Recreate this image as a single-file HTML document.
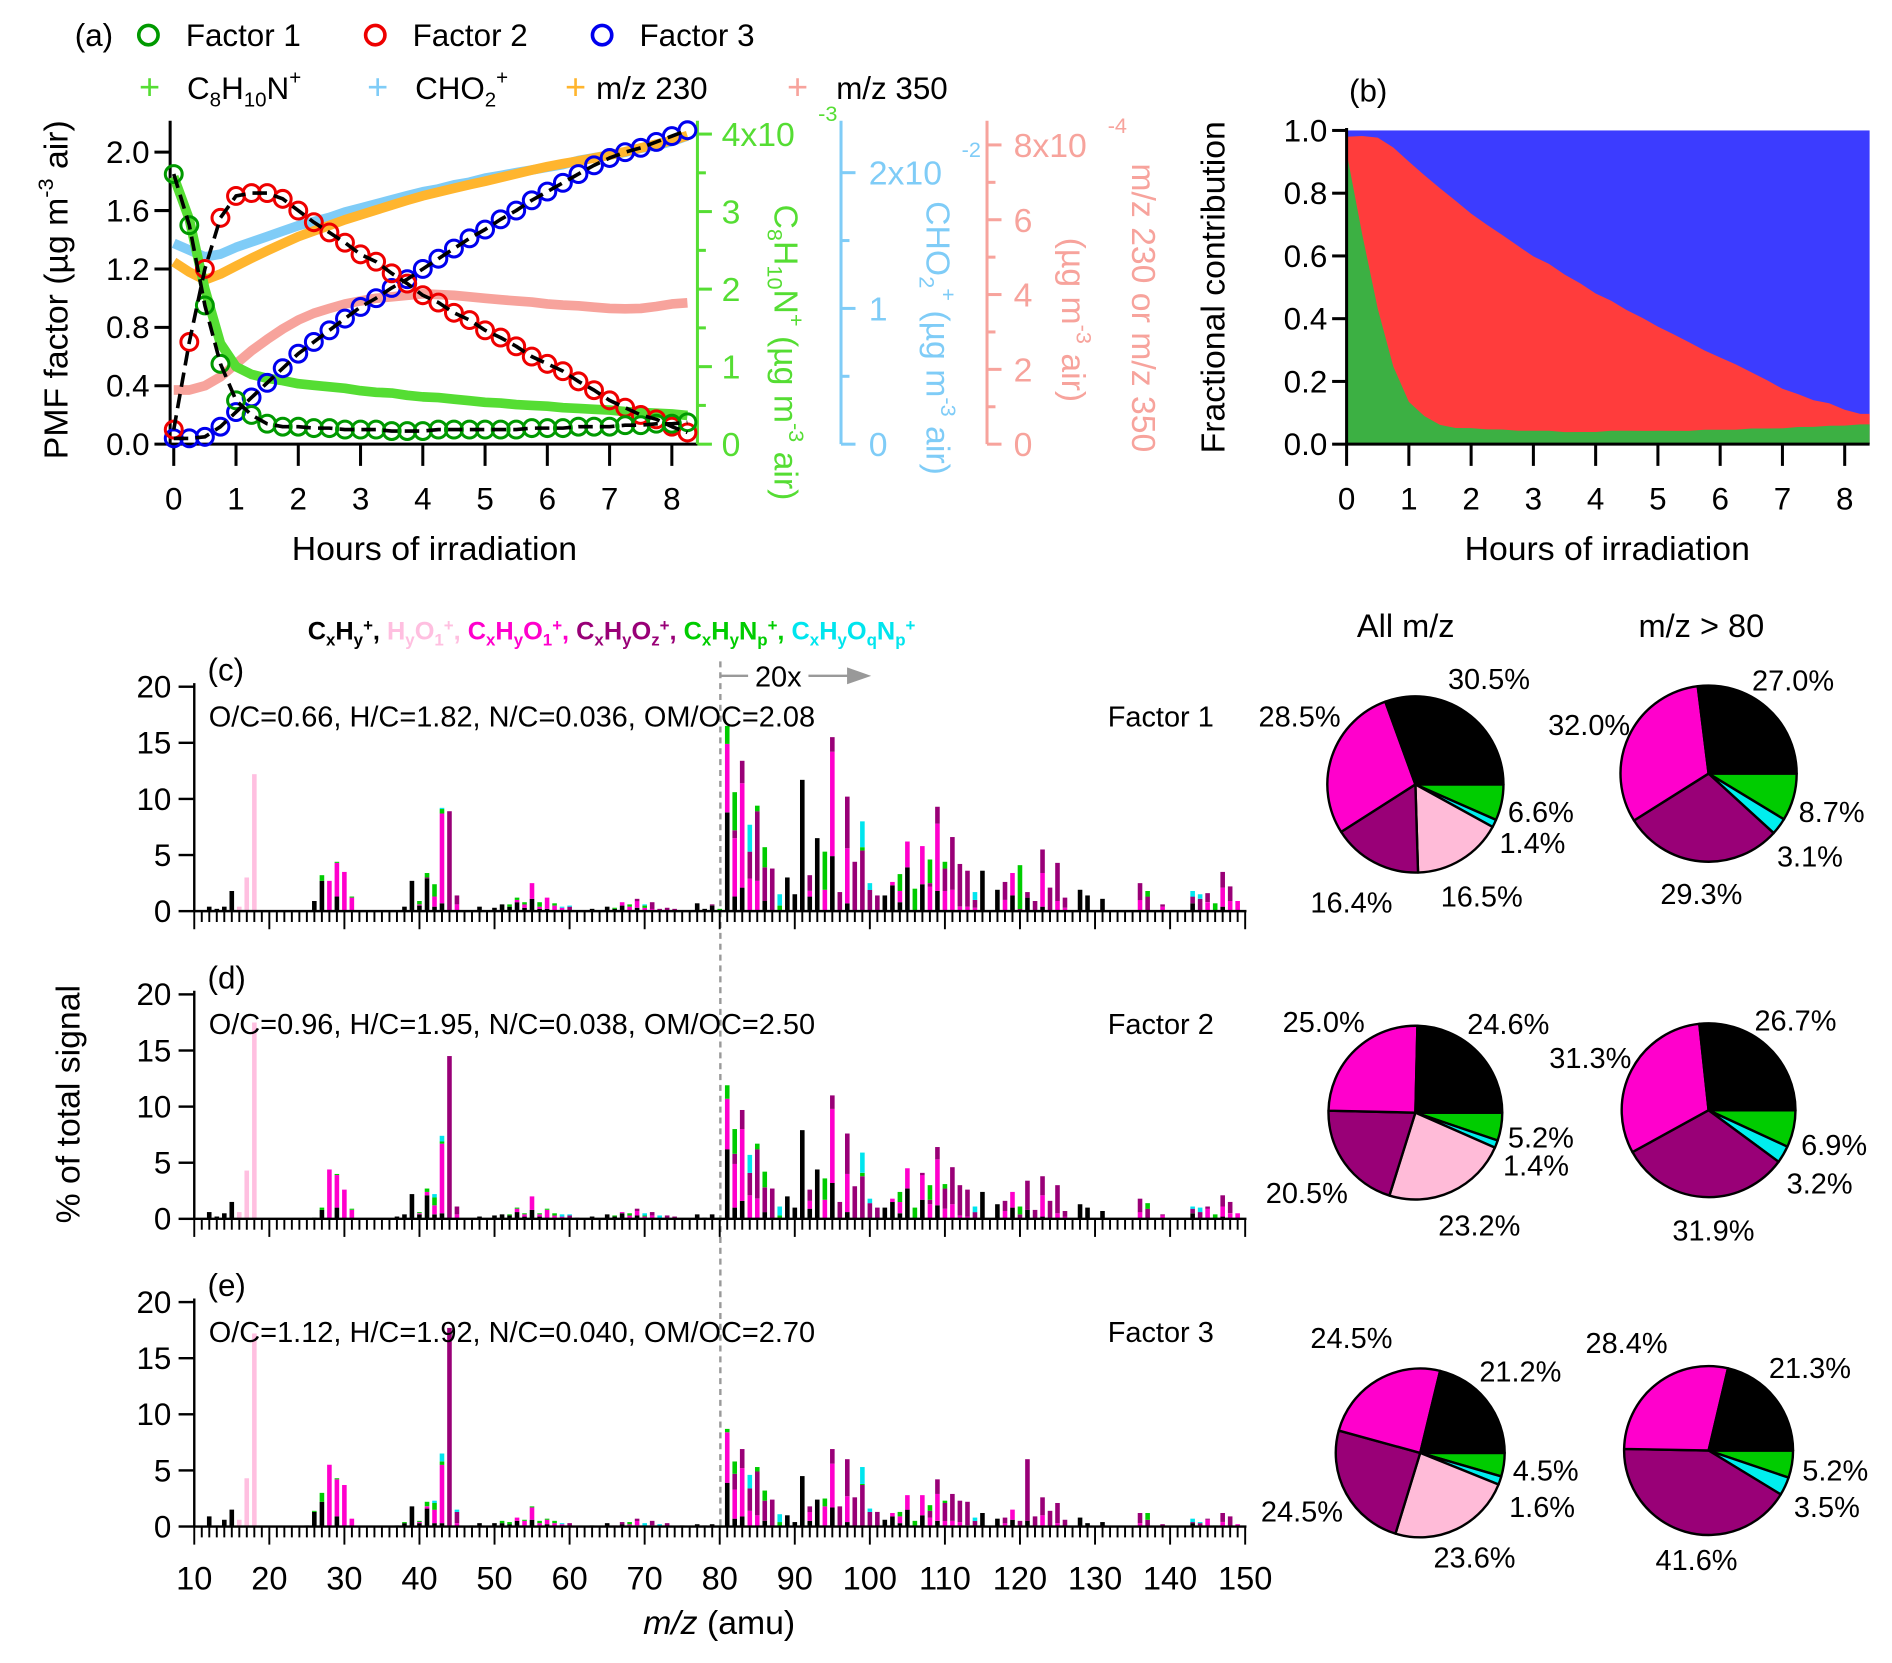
<!DOCTYPE html>
<html><head><meta charset="utf-8"><style>
html,body{margin:0;padding:0;background:#fff}
svg{display:block;font-family:"Liberation Sans",Arial,sans-serif}
</style></head><body>
<svg id="fig" width="1892" height="1663" viewBox="0 0 1568 1378" xmlns="http://www.w3.org/2000/svg">
<g font-size="26">
<text x="62" y="38">(a)</text>
<circle cx="123" cy="29" r="8" fill="none" stroke="#009900" stroke-width="3"/>
<text x="154" y="38">Factor 1</text>
<circle cx="311" cy="29" r="8" fill="none" stroke="#ee0000" stroke-width="3"/>
<text x="342" y="38">Factor 2</text>
<circle cx="499" cy="29" r="8" fill="none" stroke="#0000ee" stroke-width="3"/>
<text x="530" y="38">Factor 3</text>
<text x="124" y="82" text-anchor="middle" fill="#55dd33" font-size="30">+</text>
<text x="155" y="82">C<tspan font-size="17" dy="6">8</tspan><tspan dy="-6">H</tspan><tspan font-size="17" dy="6">10</tspan><tspan dy="-6">N</tspan><tspan font-size="17" dy="-12">+</tspan></text>
<text x="313" y="82" text-anchor="middle" fill="#7fccf7" font-size="30">+</text>
<text x="344" y="82">CHO<tspan font-size="17" dy="6">2</tspan><tspan font-size="17" dy="-18">+</tspan></text>
<text x="477" y="82" text-anchor="middle" fill="#ffb52e" font-size="30">+</text>
<text x="494" y="82">m/z 230</text>
<text x="661" y="82" text-anchor="middle" fill="#f7a39c" font-size="30">+</text>
<text x="693" y="82">m/z 350</text>
</g>
<text transform="translate(56,240) rotate(-90)" text-anchor="middle" font-size="28">PMF factor (µg m<tspan font-size="18" dy="-12">-3</tspan><tspan dy="12"> air)</tspan></text>
<text x="360" y="464" text-anchor="middle" font-size="28">Hours of irradiation</text>
<text transform="translate(642,292) rotate(90)" text-anchor="middle" font-size="28" fill="#55dd33">C<tspan font-size="18" dy="6">8</tspan><tspan dy="-6">H</tspan><tspan font-size="18" dy="6">10</tspan><tspan dy="-6">N</tspan><tspan font-size="18" dy="-12">+</tspan><tspan dy="12"> (µg m</tspan><tspan font-size="18" dy="-12">-3</tspan><tspan dy="12"> air)</tspan></text>
<text transform="translate(768,280) rotate(90)" text-anchor="middle" font-size="28" fill="#7fccf7">CHO<tspan font-size="18" dy="6">2</tspan><tspan font-size="18" dy="-18">+</tspan><tspan dy="12"> (µg m</tspan><tspan font-size="18" dy="-12">-3</tspan><tspan dy="12"> air)</tspan></text>
<text transform="translate(880,265) rotate(90)" text-anchor="middle" font-size="28" fill="#f7a39c">(µg m<tspan font-size="18" dy="-12">-3</tspan><tspan dy="12"> air)</tspan></text>
<text transform="translate(938,255) rotate(90)" text-anchor="middle" font-size="28" fill="#f7a39c">m/z 230 or m/z 350</text>
<text x="1118" y="84" font-size="26">(b)</text>
<text transform="translate(1015,238) rotate(-90)" text-anchor="middle" font-size="28">Fractional contribution</text>
<text x="1332" y="464" text-anchor="middle" font-size="28">Hours of irradiation</text>
<text x="255" y="530" font-size="21" font-weight="bold"><tspan fill="#000">C<tspan font-size="14" dy="5">x</tspan><tspan dy="-5">H</tspan><tspan font-size="14" dy="5">y</tspan><tspan font-size="14" dy="-12">+</tspan><tspan dy="7">, </tspan></tspan><tspan fill="#ffbfe0">H<tspan font-size="14" dy="5">y</tspan><tspan dy="-5">O</tspan><tspan font-size="14" dy="5">1</tspan><tspan font-size="14" dy="-12">+</tspan><tspan dy="7">, </tspan></tspan><tspan fill="#ff00cc">C<tspan font-size="14" dy="5">x</tspan><tspan dy="-5">H</tspan><tspan font-size="14" dy="5">y</tspan><tspan dy="-5">O</tspan><tspan font-size="14" dy="5">1</tspan><tspan font-size="14" dy="-12">+</tspan><tspan dy="7">, </tspan></tspan><tspan fill="#990077">C<tspan font-size="14" dy="5">x</tspan><tspan dy="-5">H</tspan><tspan font-size="14" dy="5">y</tspan><tspan dy="-5">O</tspan><tspan font-size="14" dy="5">z</tspan><tspan font-size="14" dy="-12">+</tspan><tspan dy="7">,  </tspan></tspan><tspan fill="#00cc00">C<tspan font-size="14" dy="5">x</tspan><tspan dy="-5">H</tspan><tspan font-size="14" dy="5">y</tspan><tspan dy="-5">N</tspan><tspan font-size="14" dy="5">p</tspan><tspan font-size="14" dy="-12">+</tspan><tspan dy="7">, </tspan></tspan><tspan fill="#00e5ee">C<tspan font-size="14" dy="5">x</tspan><tspan dy="-5">H</tspan><tspan font-size="14" dy="5">y</tspan><tspan dy="-5">O</tspan><tspan font-size="14" dy="5">q</tspan><tspan dy="-5">N</tspan><tspan font-size="14" dy="5">p</tspan><tspan font-size="14" dy="-12">+</tspan></tspan></text>
<text x="1165" y="528" text-anchor="middle" font-size="27">All m/z</text>
<text x="1410" y="528" text-anchor="middle" font-size="27">m/z &gt; 80</text>
<text transform="translate(66,915) rotate(-90)" text-anchor="middle" font-size="28">% of total signal</text>
<text x="596" y="1354" text-anchor="middle" font-size="28"><tspan font-style="italic">m/z</tspan>  (amu)</text>
<line x1="597" y1="548" x2="597" y2="1268" stroke="#999" stroke-width="2" stroke-dasharray="5,4"/>
<line x1="597" y1="560" x2="705" y2="560" stroke="#999" stroke-width="2"/>
<polygon points="722,560 702,553 702,567" fill="#999"/>
<rect x="620" y="546" width="50" height="26" fill="#fff"/>
<text x="645" y="569" text-anchor="middle" font-size="24">20x</text>
<g id="root"></g>
</svg>
<script>
const hours = [0,0.25,0.5,0.75,1,1.25,1.5,1.75,2,2.25,2.5,2.75,3,3.25,3.5,3.75,4,4.25,4.5,4.75,5,5.25,5.5,5.75,6,6.25,6.5,6.75,7,7.25,7.5,7.75,8,8.25];
const factor1 = [1.85,1.5,0.95,0.55,0.3,0.2,0.14,0.12,0.12,0.11,0.11,0.1,0.1,0.1,0.09,0.09,0.09,0.1,0.1,0.1,0.1,0.1,0.1,0.11,0.11,0.11,0.12,0.12,0.12,0.13,0.13,0.14,0.14,0.15];
const factor2 = [0.1,0.7,1.2,1.55,1.7,1.72,1.72,1.68,1.6,1.52,1.45,1.38,1.3,1.25,1.17,1.1,1.02,0.97,0.9,0.85,0.78,0.73,0.67,0.6,0.55,0.5,0.43,0.37,0.3,0.25,0.2,0.17,0.12,0.08];
const factor3 = [0.04,0.04,0.05,0.12,0.22,0.32,0.42,0.52,0.62,0.7,0.78,0.86,0.94,1.0,1.07,1.13,1.2,1.27,1.34,1.41,1.47,1.54,1.6,1.67,1.73,1.79,1.85,1.91,1.96,2.0,2.03,2.07,2.11,2.15];
const c8h10n = [3.45,2.9,2.0,1.3,1.0,0.9,0.85,0.82,0.78,0.76,0.74,0.72,0.69,0.67,0.66,0.63,0.61,0.6,0.58,0.56,0.54,0.53,0.51,0.5,0.49,0.47,0.46,0.45,0.44,0.42,0.41,0.4,0.39,0.37];
const cho2 = [1.48,1.43,1.38,1.4,1.45,1.49,1.53,1.57,1.61,1.64,1.67,1.71,1.74,1.77,1.8,1.83,1.86,1.88,1.91,1.93,1.96,1.98,2.0,2.02,2.04,2.06,2.09,2.11,2.13,2.15,2.18,2.2,2.23,2.27];
const mz230 = [4.87,4.6,4.39,4.55,4.76,4.97,5.17,5.36,5.55,5.7,5.85,6.0,6.13,6.26,6.39,6.52,6.64,6.74,6.84,6.94,7.03,7.13,7.23,7.33,7.42,7.5,7.57,7.65,7.73,7.82,7.92,8.02,8.12,8.25];
const mz350 = [1.45,1.45,1.56,1.8,2.15,2.5,2.8,3.08,3.32,3.5,3.63,3.75,3.83,3.9,3.94,3.98,4.02,4.0,3.98,3.94,3.9,3.86,3.83,3.8,3.75,3.72,3.7,3.66,3.63,3.62,3.63,3.68,3.75,3.78];
const hourTicks = [0,1,2,3,4,5,6,7,8];
const leftTicks = [0,0.4,0.8,1.2,1.6,2.0];
const leftTickLabels = ["0.0","0.4","0.8","1.2","1.6","2.0"];
const greenTicks = [0,1,2,3,4];
const greenTickLabels = ["0","1","2","3","4x10"];
const blueTicks = [0,1,2];
const blueTickLabels = ["0","1","2x10"];
const pinkTicks = [0,2,4,6,8];
const pinkTickLabels = ["0","2","4","6","8x10"];
const fracTicks = [0,0.2,0.4,0.6,0.8,1.0];
const fracTickLabels = ["0.0","0.2","0.4","0.6","0.8","1.0"];

const spec1 = [[12,.4],[13,.2],[14,.4],[15,1.8],[16,0,.4],[17,0,3.0],[18,0,12.2],[26,.9],[27,2.7,0,0,0,.5],[28,0,0,2.7],[29,1.3,0,3.0,0,.1],[30,0,0,3.5],[31,0,0,1.2,0,.1],[37,.1],[38,.4],[39,2.7],[40,.5,0,.1,0,.3],[41,2.9,0,0,.1,.4],[42,.4,0,.9,0,1.1],[43,.7,0,8.0,0,.4,.1],[44,0,0,0,8.9],[45,0,0,.6,.8],[48,.4],[50,.3],[51,.6],[52,.4,0,0,0,.2],[53,.8,0,.2,0,.2],[54,.3,0,.3,0,.2],[55,1.1,0,1.4],[56,.2,0,.2,0,.4],[57,.2,0,1.0],[58,0,0,.5,0,.2],[59,0,0,.3,0,0,.1],[60,0,0,0,.4,0,.1],[61,0,0,0,.1],[63,.2],[65,.4],[66,.2,0,0,0,.1],[67,.5,0,.3],[68,0,0,.4,0,.2],[69,.3,0,.6,.2],[70,0,0,.3,0,.2,.1],[71,0,0,.2,.6],[72,0,0,0,.2],[73,0,0,0,.3],[74,0,0,0,.2],[75,0,0,0,.1],[77,.7],[78,.2],[79,.5,0,0,.1],[80,0,0,0,0,.2],
[81,8.8,0,6.1,0,1.6],[82,1.3,0,5.2,.7,3.4],[83,2.1,0,9.3,2.0],[84,0,0,2.9,2.4,0,2.4],[85,0,0,2.7,6.2,.5],[86,.9,0,0,3.0,1.8],[87,0,0,0,3.8],[88,0,0,0,0,.5,1.0],[89,3.0],[90,1.5],[91,11.7],[92,1.3,0,.5,1.4],[93,6.5],[94,0,0,1.9,0,3.4],[95,4.9,0,9.3,1.3],[96,0,0,0,1.7],[97,.7,0,4.9,4.6],[98,0,0,0,4.4],[99,0,0,0,5.4,.3,2.3],[100,0,0,0,1.9,0,.6],[101,0,0,0,1.4],[102,1.4],[103,2.3,0,.3],[104,.8,0,1.0,0,1.5],[105,3.9,0,2.3],[106,0,0,0,0,2.0],[107,2.4,0,3.4],[108,0,0,2.2,.3,2.1],[109,1.8,0,6.0,1.5],[110,0,0,1.8,2.0,.6],[111,0,0,1.9,4.7],[112,0,0,.4,3.8],[113,0,0,.4,3.2],[114,0,0,.3,.7,0,.7],[115,3.6],[117,1.9],[118,0,0,1.0,1.6],[119,1.4,0,2.0],[120,0,0,0,.2,3.9],[121,1.2,0,0,.5],[122,0,0,0,.9],[123,.4,0,3.0,2.1],[124,0,0,0,2.1],[125,0,0,.9,3.4],[126,0,0,.3,.9],[128,1.9],[129,1.4],[131,1.1],[136,0,0,1.0,1.5],[137,0,0,0,1.3,.5],[139,0,0,.4,.2],[143,.7,0,0,.6,0,.5],[144,0,0,0,1.1,0,.4],[145,0,0,.8,.8],[146,0,0,0,0,.7],[147,.4,0,1.7,1.4],[148,0,0,.9,1.3],[149,0,0,.9]];
const spec2 = [[12,.6],[13,.2],[14,.5],[15,1.5],[16,0,.6],[17,0,4.3],[18,0,17.5],[26,.1],[27,.8,0,0,0,.2],[28,0,0,4.4],[29,1.0,0,2.9,0,.1],[30,0,0,2.6],[31,0,0,.8,0,.1],[37,.2],[38,.4],[39,2.2],[40,.4,0,.1,0,.1],[41,2.1,0,.3,0,.3],[42,.4,0,.8,0,.7,.3],[43,.5,0,6.2,0,.2,.5],[44,0,0,0,14.5],[45,0,0,.4,.7],[48,.2],[50,.3],[51,.4],[52,.3,0,0,0,.1],[53,.6,0,.3,0,.1],[54,.2,0,.2,0,.1],[55,.8,0,1.2],[56,.2,0,.2,0,.1],[57,0,0,.8,0,.1],[58,0,0,.3,0,.2],[59,0,0,.2,0,0,.2],[60,0,0,0,.3,0,.1],[61,0,0,0,.1],[63,.2],[65,.4],[66,.2,0,0,0,.1],[67,.5,0,.1],[68,0,0,.3,0,.2],[69,.3,0,.4,.2],[70,0,0,.2,0,.1,.2],[71,0,0,.3,.3],[72,0,0,0,0,0,.3],[73,0,0,0,.3],[74,0,0,0,.2],[77,.4],[78,.1],[79,.4],[80,0,0,0,0,.1],
[81,6.2,0,4.5,0,1.2],[82,1.0,0,3.9,.9,2.2],[83,1.6,0,6.4,1.7],[84,0,0,2.1,2.0,0,1.6],[85,0,0,1.8,4.4,.5],[86,.6,0,0,2.2,1.4],[87,0,0,0,2.7],[88,0,0,0,0,.3,.8],[89,2.0],[90,1.0],[91,7.9],[92,.9,0,.7,1.0],[93,4.4],[94,0,0,1.7,0,1.9],[95,3.2,0,6.6,1.2],[96,0,0,0,1.5],[97,.6,0,3.4,3.6],[98,0,0,0,2.9],[99,0,0,0,3.8,.3,1.8],[100,0,0,0,1.4,0,.4],[101,0,0,0,1.0],[102,1.0],[103,1.5,0,.3],[104,.5,0,1.0,0,.9],[105,2.7,0,1.8],[106,0,0,0,0,1.0],[107,1.7,0,2.2,.2],[108,0,0,1.3,.4,1.3],[109,1.2,0,4.1,1.1],[110,0,0,.9,1.8,.4],[111,0,0,1.3,3.3],[112,0,0,.3,2.7],[113,0,0,.2,2.4],[114,0,0,0,.6,0,.5],[115,2.4],[117,1.3],[118,0,0,.7,.9],[119,1.0,0,1.4],[120,0,0,0,.4,.7],[121,.8,0,0,2.6],[122,0,0,0,.8],[123,.2,0,1.9,1.7],[124,0,0,0,1.6],[125,0,0,.5,2.5],[126,0,0,.2,.5],[128,1.3],[129,1.0],[131,.7],[136,0,0,.6,1.2],[137,0,0,0,.9,.5],[139,0,0,.3,.1],[143,.5,0,0,.4,0,.2],[144,0,0,0,.6,0,.4],[145,0,0,.9,.2],[146,0,0,0,0,.4],[147,.2,0,.9,1.0],[148,0,0,.5,1.0],[149,0,0,.5]];
const spec3 = [[12,.9],[13,.1],[14,.6],[15,1.5],[16,0,.6],[17,0,4.3],[18,0,17.2],[25,.1],[26,1.3,0,0,0,.1],[27,2.2,0,0,0,.8],[28,0,0,5.5],[29,.9,0,3.3,0,.1],[30,0,0,3.7],[31,0,0,.7],[37,.1],[38,.3,0,0,0,.1],[39,1.8],[40,.3,0,.1,0,.1],[41,1.6,0,.2,0,.4],[42,.3,0,1.2,0,.6,.2],[43,.3,0,5.2,0,.3,.7],[44,0,0,0,17.7],[45,0,0,.3,1.0,0,.2],[47,.1],[48,.3],[50,.3],[51,.3,0,0,0,.2],[52,.2,0,0,0,.2],[53,.5,0,.3],[54,0,0,.5,0,.1],[55,.6,0,1.1,0,.1],[56,0,0,.3,0,.2],[57,.2,0,.4,0,.1],[58,0,0,.3,0,.2],[59,0,0,.2,0,0,.1],[60,0,0,0,.3],[63,.1],[65,.3],[66,0,0,0,.1],[67,.2,0,0,.2],[68,0,0,.2,0,.2],[69,.1,0,.4,.2],[70,0,0,0,0,0,.3],[71,0,0,.1,.4],[72,0,0,0,0,0,.2],[73,0,0,0,.3],[75,.1],[77,.2],[78,.1],[79,.2],[80,0,0,0,0,.1],
[81,3.9,0,4.5,0,.3],[82,.7,0,2.6,1.4,1.1],[83,.9,0,4.3,1.7],[84,0,0,1.4,2.0,0,1.2],[85,0,0,1.0,3.9,.4],[86,.5,0,0,1.8,.9],[87,0,0,0,2.4],[88,0,0,0,0,.4,.7],[89,1.0],[90,.4],[91,4.5],[92,.5,0,.8,.5],[93,2.4],[94,0,0,1.8,0,.7],[95,1.7,0,3.9,1.3],[96,0,0,0,1.8],[97,.4,0,2.3,3.3],[98,0,0,0,2.6],[99,0,0,0,3.7,.1,1.5],[100,0,0,0,1.3,0,.3],[101,0,0,0,1.3],[102,.6],[103,.9,0,.3],[104,.3,0,.6,0,.4],[105,1.5,0,1.3],[106,0,0,0,0,.5],[107,1.0,0,1.8],[108,0,0,.8,.6,.5],[109,.5,0,2.4,1.3],[110,0,0,.5,1.6,.2],[111,0,0,.5,2.4],[112,0,0,.4,1.9],[113,0,0,.1,2.1],[114,0,0,0,.5,0,.3],[115,1.2],[117,.7],[118,0,0,.3,.5],[119,.6,0,.9],[120,0,0,0,.5],[121,.5,0,0,5.5],[122,0,0,0,.9],[123,0,0,1.0,1.6],[124,0,0,0,1.4],[125,0,0,.3,1.8],[126,0,0,0,.6],[128,.8],[129,.3],[131,.4],[136,0,0,.3,.9],[137,0,0,0,.6,.6],[139,0,0,0,.2],[143,.3,0,0,.1,0,.3],[144,0,0,0,.3,0,.1],[145,0,0,.6,.1],[146,0,0,0,0,.1],[147,0,0,.4,.8],[148,0,0,0,.9],[149,0,0,.2]];
const mzTicks = [10,20,30,40,50,60,70,80,90,100,110,120,130,140,150];
const pctTicks = [0,5,10,15,20];
const pie1All = [6.6,1.4,16.5,16.4,28.5,30.5];
const pie1Hi  = [8.7,3.1,0,29.3,32.0,27.0];
const pie2All = [5.2,1.4,23.2,20.5,25.0,24.6];
const pie2Hi  = [6.9,3.2,0,31.9,31.3,26.7];
const pie3All = [4.5,1.6,23.6,24.5,24.5,21.2];
const pie3Hi  = [5.2,3.5,0,41.6,28.4,21.3];

const NS = "http://www.w3.org/2000/svg";
const root = document.getElementById('root');
function mk(tag, attrs, parent){const e=document.createElementNS(NS,tag);for(const k in attrs)e.setAttribute(k,attrs[k]);(parent||root).appendChild(e);return e;}

const xa = h => 144 + h*51.6;
const yL = v => 368 - v*121;
const yG = v => 368 - v*64.25;
const yB = v => 368 - v*112.5;
const yP = v => 368 - v*31;
const xb = h => 1116 + h*51.6;
const yF = v => 368 - v*260;

let ax = mk('g',{stroke:'#000','stroke-width':2.5});


mk('line',{x1:141,y1:100,x2:141,y2:368},ax);
mk('line',{x1:141,y1:368,x2:578,y2:368},ax);
hourTicks.forEach(h=>{
  const t=mk('line',{x1:xa(h),y1:368,x2:xa(h),y2:386},ax);
  
  
  const l=mk('text',{x:xa(h),y:422,'text-anchor':'middle','font-size':26,stroke:'none'});
  l.textContent=h;
  
  
});
leftTicks.forEach((v,i)=>{
  mk('line',{x1:128,y1:yL(v),x2:141,y2:yL(v)},ax);
  const l=mk('text',{x:124,y:yL(v)+9,'text-anchor':'end','font-size':26,stroke:'none'});
  l.textContent=leftTickLabels[i];
  
  
});
let ga = mk('g',{stroke:'#55dd33','stroke-width':2.5,fill:'#55dd33'});


mk('line',{x1:578,y1:100,x2:578,y2:368},ga);
greenTicks.forEach((v,i)=>{
  mk('line',{x1:578,y1:yG(v),x2:590,y2:yG(v)},ga);
  if(v<4) mk('line',{x1:578,y1:yG(v+0.5),x2:585,y2:yG(v+0.5)},ga);
  const l=mk('text',{x:598,y:yG(v)+10,'font-size':28,stroke:'none'},ga);
  l.textContent=greenTickLabels[i];
  
  
});
mk('text',{x:678,y:100,'font-size':18,stroke:'none'},ga).textContent='-3';
let ba = mk('g',{stroke:'#7fccf7','stroke-width':2.5,fill:'#7fccf7'});


mk('line',{x1:697,y1:100,x2:697,y2:368},ba);
blueTicks.forEach((v,i)=>{
  mk('line',{x1:697,y1:yB(v),x2:709,y2:yB(v)},ba);
  if(v<2) mk('line',{x1:697,y1:yB(v+0.5),x2:704,y2:yB(v+0.5)},ba);
  const l=mk('text',{x:720,y:yB(v)+10,'font-size':28,stroke:'none'},ba);
  l.textContent=blueTickLabels[i];
  
  
});
mk('text',{x:797,y:130,'font-size':18,stroke:'none'},ba).textContent='-2';
let pa = mk('g',{stroke:'#f7a39c','stroke-width':2.5,fill:'#f7a39c'});


mk('line',{x1:818,y1:100,x2:818,y2:368},pa);
pinkTicks.forEach((v,i)=>{
  mk('line',{x1:818,y1:yP(v),x2:830,y2:yP(v)},pa);
  if(v<8) mk('line',{x1:818,y1:yP(v+1),x2:825,y2:yP(v+1)},pa);
  const l=mk('text',{x:840,y:yP(v)+10,'font-size':28,stroke:'none'},pa);
  l.textContent=pinkTickLabels[i];
  
  
});
mk('text',{x:918,y:110,'font-size':18,stroke:'none'},pa).textContent='-4';

function poly(vals, yf, color, w, name, dash){
  const pts = hours.map((h,i)=>xa(h).toFixed(1)+','+yf(vals[i]).toFixed(1)).join(' ');
  const p = mk('polyline',{points:pts,fill:'none',stroke:color,'stroke-width':w,'stroke-linejoin':'round'});
  if(dash) p.setAttribute('stroke-dasharray',dash);
  
  
  return p;
}
poly(cho2, yB, '#7fccf7', 8, 'cho2-series');
poly(mz230, yP, '#ffb52e', 8, 'mz230-series');
poly(mz350, yP, '#f7a39c', 8, 'mz350-series');
poly(c8h10n, yG, '#55dd33', 8, 'c8h10n-series');
function circles(vals, color, name){
  const g = mk('g',{fill:'none',stroke:color,'stroke-width':2.5});
  
  
  hours.forEach((h,i)=>{
    const c=mk('circle',{cx:xa(h),cy:yL(vals[i]),r:7},g);
    
    
  });
}
circles(factor3,'#0000ee','factor3-series');
circles(factor2,'#ee0000','factor2-series');
circles(factor1,'#009900','factor1-series');
poly(factor3, yL, '#000', 3, 'factor3-fit', '12,6');
poly(factor2, yL, '#000', 3, 'factor2-fit', '12,6');
poly(factor1, yL, '#000', 3, 'factor1-fit', '12,6');

const fr1 = hours.map((h,i)=>factor1[i]/(factor1[i]+factor2[i]+factor3[i]));
const fr12 = hours.map((h,i)=>(factor1[i]+factor2[i])/(factor1[i]+factor2[i]+factor3[i]));
const bx0 = xb(0), bx1 = xb(8.4);
let blueA = mk('rect',{x:bx0,y:yF(1),width:bx1-bx0,height:yF(0)-yF(1),fill:'#3c3cff'});


function area(fr, color, name){
  let pts = bx0+','+yF(0)+' ';
  pts += hours.map((h,i)=>xb(h).toFixed(1)+','+yF(fr[i]).toFixed(1)).join(' ');
  pts += ' '+bx1+','+yF(fr[fr.length-1]).toFixed(1)+' '+bx1+','+yF(0);
  const p = mk('polygon',{points:pts,fill:color});
  
  
}
area(fr12,'#ff3c3c','factor2-fraction-area');
area(fr1,'#3cb043','factor1-fraction-area');
let bax = mk('g',{stroke:'#000','stroke-width':2.5});


mk('line',{x1:bx0,y1:yF(1)-2,x2:bx0,y2:368},bax);
mk('line',{x1:bx0,y1:368,x2:bx1,y2:368},bax);
hourTicks.forEach(h=>{
  mk('line',{x1:xb(h),y1:368,x2:xb(h),y2:386},bax);
  const l=mk('text',{x:xb(h),y:422,'text-anchor':'middle','font-size':26,stroke:'none'},bax);
  l.textContent=h;
  
  
});
fracTicks.forEach((v,i)=>{
  mk('line',{x1:bx0-12,y1:yF(v),x2:bx0,y2:yF(v)},bax);
  const l=mk('text',{x:bx0-16,y:yF(v)+9,'text-anchor':'end','font-size':26,stroke:'none'},bax);
  l.textContent=fracTickLabels[i];
  
  
});

const famColors = ['#000000','#ffbfe0','#ff00cc','#990077','#00cc00','#00e5ee'];
const xm = mz => 161 + (mz-10)*6.221;
function specPanel(spec, y0, letter, ratios, fname, showLabels, key){
  const ys = v => y0 - v*9.3;
  const g = mk('g',{});
  
  
  spec.forEach(r=>{
    let base=0;
    for(let k=1;k<=6;k++){
      const v=r[k]||0; if(v<=0) continue;
      const b=mk('rect',{x:(xm(r[0])-1.9).toFixed(1),y:ys(base+v).toFixed(1),width:3.8,height:(v*9.3).toFixed(1),fill:famColors[k-1]},g);
      
      
      base+=v;
    }
  });
  const a = mk('g',{stroke:'#000','stroke-width':2},g);
  
  
  mk('line',{x1:161,y1:ys(20)-3,x2:161,y2:y0},a);
  mk('line',{x1:161,y1:y0,x2:1033,y2:y0},a);
  for(let m=10;m<=150;m++){
    mk('line',{x1:xm(m),y1:y0,x2:xm(m),y2:y0+(m%10===0?15:9),'stroke-width':1.6},a);
  }
  pctTicks.forEach(v=>{
    mk('line',{x1:148,y1:ys(v),x2:161,y2:ys(v)},a);
    const l=mk('text',{x:142,y:ys(v)+9,'text-anchor':'end','font-size':26,stroke:'none'},a);
    l.textContent=v;
    
    
  });
  if(showLabels){
    mzTicks.forEach(m=>{
      const l=mk('text',{x:xm(m),y:y0+52,'text-anchor':'middle','font-size':27,stroke:'none'},a);
      l.textContent=m;
      
      
    });
  }
  const t1=mk('text',{x:172,y:ys(20)-5,'font-size':26},g);t1.textContent=letter;
  
  
  const t2=mk('text',{x:173,y:ys(20)+33,'font-size':24},g);t2.textContent=ratios;
  
  
  const t3=mk('text',{x:918,y:ys(20)+33,'font-size':24},g);t3.textContent=fname;
  
  
}
specPanel(spec1,755,'(c)','O/C=0.66, H/C=1.82, N/C=0.036, OM/OC=2.08','Factor 1',false,'factor1');
specPanel(spec2,1010,'(d)','O/C=0.96, H/C=1.95, N/C=0.038, OM/OC=2.50','Factor 2',false,'factor2');
specPanel(spec3,1265,'(e)','O/C=1.12, H/C=1.92, N/C=0.040, OM/OC=2.70','Factor 3',true,'factor3');

const pieColors = ['#00cc00','#00eeee','#ffbbd8','#990077','#ff00cc','#000000'];
function pie(vals, cx, cy, r, name, labels){
  const g = mk('g',{});
  
  
  const tot = vals.reduce((a,b)=>a+b,0);
  let ang = 0;
  vals.forEach((v,i)=>{
    if(v<=0) return;
    const a0=ang, a1=ang+v/tot*2*Math.PI; ang=a1;
    const x0=cx+r*Math.cos(a0), y0=cy+r*Math.sin(a0), x1=cx+r*Math.cos(a1), y1=cy+r*Math.sin(a1);
    const large=(a1-a0)>Math.PI?1:0;
    const p=mk('path',{d:`M${cx},${cy} L${x0.toFixed(1)},${y0.toFixed(1)} A${r},${r} 0 ${large} 1 ${x1.toFixed(1)},${y1.toFixed(1)} Z`,fill:pieColors[i],stroke:'#000','stroke-width':2,'stroke-linejoin':'round'},g);
    
    
  });
  labels.forEach(L=>{
    const t=mk('text',{x:L[1],y:L[2]+9,'text-anchor':'middle','font-size':24},g);
    t.textContent=L[0];
    
    
  });
}
const pct = v => v.toFixed(1)+'%';
pie(pie1All,1173,650,73,'pie-factor1-all',[[pct(pie1All[5]),1234,562],[pct(pie1All[4]),1077,593],[pct(pie1All[0]),1277,672],[pct(pie1All[1]),1270,698],[pct(pie1All[3]),1120,747],[pct(pie1All[2]),1228,742]]);
pie(pie1Hi,1416,641,73,'pie-factor1-gt80',[[pct(pie1Hi[5]),1486,563],[pct(pie1Hi[4]),1317,600],[pct(pie1Hi[0]),1518,672],[pct(pie1Hi[1]),1500,709],[pct(pie1Hi[3]),1410,740]]);
pie(pie2All,1173,922,72,'pie-factor2-all',[[pct(pie2All[4]),1097,846],[pct(pie2All[5]),1250,848],[pct(pie2All[0]),1277,942],[pct(pie2All[1]),1273,965],[pct(pie2All[3]),1083,988],[pct(pie2All[2]),1226,1015]]);
pie(pie2Hi,1416,920,72,'pie-factor2-gt80',[[pct(pie2Hi[5]),1488,845],[pct(pie2Hi[4]),1318,876],[pct(pie2Hi[0]),1520,948],[pct(pie2Hi[1]),1508,980],[pct(pie2Hi[3]),1420,1019]]);
pie(pie3All,1177,1204,70,'pie-factor3-all',[[pct(pie3All[4]),1120,1108],[pct(pie3All[5]),1260,1136],[pct(pie3All[0]),1281,1218],[pct(pie3All[1]),1278,1248],[pct(pie3All[3]),1079,1252],[pct(pie3All[2]),1222,1290]]);
pie(pie3Hi,1416,1202,70,'pie-factor3-gt80',[[pct(pie3Hi[4]),1348,1112],[pct(pie3Hi[5]),1500,1133],[pct(pie3Hi[0]),1521,1218],[pct(pie3Hi[1]),1514,1248],[pct(pie3Hi[3]),1406,1292]]);
</script>
</body></html>
